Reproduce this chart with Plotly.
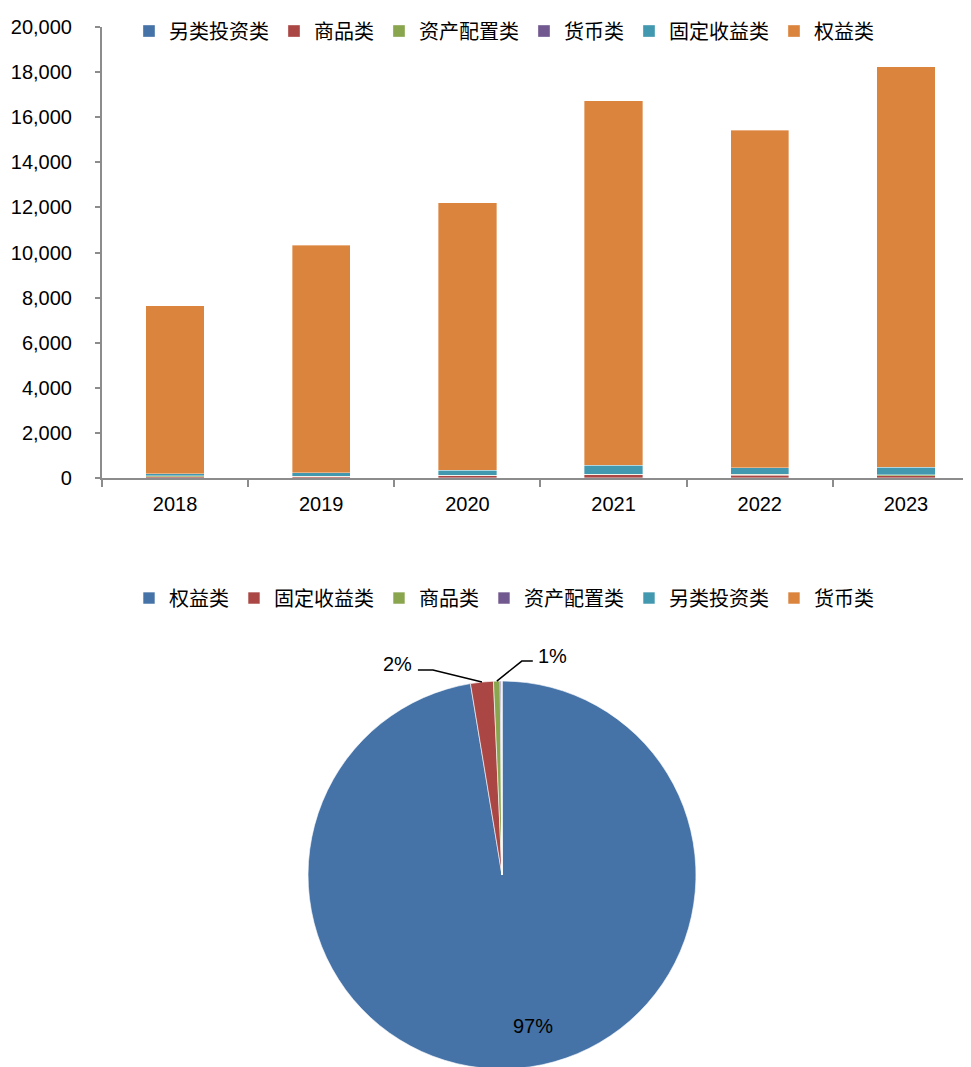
import math
import plotly.graph_objects as go

years = ["2018", "2019", "2020", "2021", "2022", "2023"]

# stacked bar series (bottom to top)
bar_names = ["另类投资类", "商品类", "资产配置类", "货币类", "固定收益类", "权益类"]
alt_inv = [10, 10, 15, 20, 20, 20]
commodity = [40, 40, 80, 120, 110, 90]
asset_alloc = [40, 20, 30, 30, 30, 30]
money = [0, 0, 0, 0, 0, 0]
fixed_income = [110, 165, 215, 390, 300, 335]
equity = [7430, 10095, 11860, 16160, 14970, 17755]
bar_series = [alt_inv, commodity, asset_alloc, money, fixed_income, equity]

# pie
pie_labels = ["权益类", "固定收益类", "商品类", "资产配置类", "另类投资类", "货币类"]
pie_values = [97.4, 1.9, 0.55, 0.1, 0.05, 0.0]

palette = ["#4572A7", "#AA4643", "#89A54E", "#71588F", "#4198AF", "#DB843D"]

W, H = 971, 1067
num_font = dict(family="Liberation Sans, Arial", size=20, color="black")
cjk_font = dict(family="Noto Sans CJK SC", size=20, color="black")

fig = go.Figure()
for name, vals, col in zip(bar_names, bar_series, palette):
    fig.add_trace(go.Bar(
        x=years, y=vals, name=name, marker_color=col,
        marker_line=dict(color="rgba(255,255,255,0.6)", width=0.6),
        width=0.4, legend="legend",
    ))

pie_dom_x = [0.309, 0.7085]
pie_dom_y = [0.0056, 0.3693]
fig.add_trace(go.Pie(
    labels=pie_labels, values=pie_values, sort=False, direction="clockwise",
    rotation=0, marker=dict(colors=palette, line=dict(color="white", width=0.6)),
    textinfo="none", hoverinfo="label+percent",
    domain=dict(x=pie_dom_x, y=pie_dom_y),
    legend="legend2", showlegend=True,
))

# pie geometry (paper pixels) for label placement
cx = (pie_dom_x[0] + pie_dom_x[1]) / 2 * W
cy = (1 - (pie_dom_y[0] + pie_dom_y[1]) / 2) * H
r = min((pie_dom_x[1] - pie_dom_x[0]) * W, (pie_dom_y[1] - pie_dom_y[0]) * H) / 2
total = sum(pie_values)

annotations = []
shapes = []
cum = 0.0
# leader-line style per labelled slice: (elbow dx, elbow dy, end dx, side)
leader = {1: (-49, -12, -64, "left"), 2: (25, -20, 36, "right")}
for i, v in enumerate(pie_values):
    mid = (cum + v / 2) / total * 2 * math.pi
    cum += v
    pct = f"{round(v / total * 100)}%"
    if i == 0:
        px = cx + 0.78 * r * math.sin(mid)
        py = cy - 0.78 * r * math.cos(mid)
        annotations.append(dict(x=px / W, y=1 - py / H, xref="paper", yref="paper",
                                text=pct, showarrow=False, font=num_font, xshift=19,
                                xanchor="center", yanchor="middle"))
    elif i in leader:
        tx = cx + r * math.sin(mid)
        ty = cy - r * math.cos(mid)
        edx, edy, endx, side = leader[i]
        ex, ey = tx + edx, ty + edy
        fx, fy = tx + endx, ey
        path = (f"M {tx / W},{1 - ty / H} L {ex / W},{1 - ey / H} L {fx / W},{1 - fy / H}")
        shapes.append(dict(type="path", xref="paper", yref="paper", path=path,
                           line=dict(color="black", width=1.5)))
        if side == "left":
            annotations.append(dict(x=(fx - 4) / W, y=1 - (fy - 6) / H, xref="paper", yref="paper",
                                    text=pct, showarrow=False, font=num_font,
                                    xanchor="right", yanchor="middle"))
        else:
            annotations.append(dict(x=(fx + 3) / W, y=1 - (fy - 5) / H, xref="paper", yref="paper",
                                    text=pct, showarrow=False, font=num_font,
                                    xanchor="left", yanchor="middle"))

fig.update_layout(
    width=W, height=H,
    margin=dict(l=0, r=0, t=0, b=0, autoexpand=False),
    paper_bgcolor="white", plot_bgcolor="white",
    barmode="stack",
    xaxis=dict(domain=[0.0968, 1.0], type="category", range=[-0.5, 5.5],
               showline=True, linecolor="#8c8c8c", linewidth=2,
               ticks="outside", tickson="boundaries", ticklen=7, tickcolor="#8c8c8c",
               tickwidth=2, tickfont=num_font, ticklabelstandoff=7, showgrid=False,
               automargin=False),
    yaxis=dict(domain=[0.5595, 0.9822], range=[0, 20000], dtick=2000, tickformat=",",
               showline=True, linecolor="#8c8c8c", linewidth=2,
               ticks="outside", ticklen=5, tickcolor="#8c8c8c", tickwidth=2,
               tickfont=num_font, ticklabelstandoff=19, showgrid=False, zeroline=False,
               automargin=False),
    legend=dict(orientation="h", x=0.1246, xanchor="left", y=0.9784, yanchor="middle",
                font=cjk_font, traceorder="normal", itemclick=False,
                bgcolor="rgba(0,0,0,0)"),
    legend2=dict(orientation="h", x=0.1246, xanchor="left", y=0.447, yanchor="middle",
                 font=cjk_font, traceorder="normal", itemclick=False,
                 bgcolor="rgba(0,0,0,0)"),
    showlegend=True,
    annotations=annotations,
    shapes=shapes,
)

fig.write_html("out.html")
